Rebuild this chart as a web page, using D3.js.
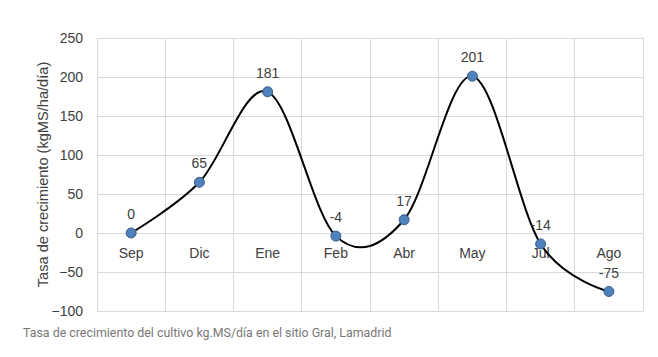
<!DOCTYPE html>
<html><head><meta charset="utf-8">
<script src="https://cdn.jsdelivr.net/npm/d3@7"></script>
<style>body{margin:0;background:#fff}svg{display:block}</style>
</head><body>
<svg id="c" width="658" height="357"></svg>
<script>
const categories = ["Sep","Dic","Ene","Feb","Abr","May","Jul","Ago"];
const values = [0, 65, 181, -4, 17, 201, -14, -75];
const yTicks = [-100,-50,0,50,100,150,200,250];
const yTitle = "Tasa de crecimiento (kgMS/ha/día)";
const caption = "Tasa de crecimiento del cultivo kg.MS/día en el sitio Gral, Lamadrid";

const svg = d3.select("#c");
const L = 97, R = 643, T = 38, B = 311;
const x = d3.scaleBand().domain(categories).range([L, R]);
const y = d3.scaleLinear().domain([-100, 250]).range([B, T]);
const font = "Liberation Sans, Arial, sans-serif";
const txt = "#404040";

// horizontal grid
svg.append("g").selectAll("line").data(yTicks).join("line")
  .attr("x1", L).attr("x2", R).attr("y1", d => y(d)).attr("y2", d => y(d))
  .attr("stroke", "#d9d9d9").attr("stroke-width", 1).attr("shape-rendering","crispEdges");
// vertical grid
const vx = categories.map(c => x(c)).concat([R]);
svg.append("g").selectAll("line").data(vx).join("line")
  .attr("x1", d => d).attr("x2", d => d).attr("y1", T).attr("y2", B)
  .attr("stroke", "#d9d9d9").attr("stroke-width", 1).attr("shape-rendering","crispEdges");

// y axis labels
const yAxis = d3.axisLeft(y).tickValues(yTicks).tickSize(0).tickPadding(14);
const gy = svg.append("g").attr("transform", `translate(${L},0)`).call(yAxis);
gy.select(".domain").remove();
gy.selectAll("text").attr("font-family", font).attr("font-size", 14).attr("fill", txt);

// x category labels at zero line
const xAxis = d3.axisBottom(x).tickSize(0).tickPadding(15);
const gx = svg.append("g").attr("transform", `translate(0,${y(0)})`).call(xAxis);
gx.select(".domain").remove();
gx.selectAll("text").attr("font-family", font).attr("font-size", 14).attr("fill", txt);

// y title
svg.append("text")
  .attr("transform", `translate(48,${(T+B)/2}) rotate(-90)`)
  .attr("text-anchor", "middle").attr("font-family", font).attr("font-size", 14.6)
  .attr("fill", txt).text(yTitle);

const pts = categories.map((c, i) => [x(c) + x.bandwidth()/2, y(values[i])]);
const line = d3.line().curve(d3.curveCardinal.tension(0));
svg.append("path").attr("d", line(pts)).attr("fill", "none")
  .attr("stroke", "#000").attr("stroke-width", 2);

svg.append("g").selectAll("circle").data(pts).join("circle")
  .attr("cx", d => d[0]).attr("cy", d => d[1]).attr("r", 5)
  .attr("fill", "#4f81bd").attr("stroke", "#385d8a").attr("stroke-width", 1);

svg.append("g").selectAll("text").data(values).join("text")
  .attr("x", (d, i) => pts[i][0]).attr("y", (d, i) => pts[i][1] - 14)
  .attr("text-anchor", "middle").attr("font-family", font).attr("font-size", 14)
  .attr("fill", txt).text(d => d);

svg.append("text").attr("x", 23).attr("y", 337)
  .attr("font-family", "Roboto, sans-serif").attr("font-size", 12.4)
  .attr("fill", "#777").text(caption);
</script>
</body></html>
